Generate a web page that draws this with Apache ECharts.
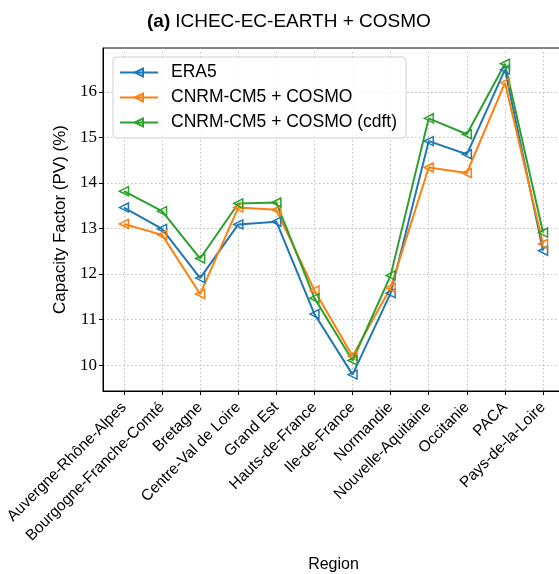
<!DOCTYPE html>
<html>
<head>
<meta charset="utf-8">
<script src="https://cdn.jsdelivr.net/npm/echarts@6/dist/echarts.min.js"></script>
<style>html,body{margin:0;padding:0;background:#fff;}#c{width:559px;height:574px;}</style>
</head>
<body>
<div id="c"></div>
<script>
const regions = ['Auvergne-Rhône-Alpes','Bourgogne-Franche-Comté','Bretagne','Centre-Val de Loire','Grand Est','Hauts-de-France','Ile-de-France','Normandie','Nouvelle-Aquitaine','Occitanie','PACA','Pays-de-la-Loire'];
const era5 = [13.46, 12.99, 11.91, 13.09, 13.15, 11.12, 9.79, 11.58, 14.92, 14.63, 16.49, 12.51];
const cnrmCosmo = [13.10, 12.86, 11.56, 13.46, 13.41, 11.64, 10.20, 11.70, 14.34, 14.22, 16.20, 12.66];
const cnrmCosmoCdft = [13.82, 13.38, 12.34, 13.55, 13.57, 11.47, 10.10, 11.97, 15.42, 15.07, 16.62, 12.91];
const seriesNames = ['ERA5', 'CNRM-CM5 + COSMO', 'CNRM-CM5 + COSMO (cdft)'];
const yTicks = [10, 11, 12, 13, 14, 15, 16];
const colors = ['#1f77b4', '#ff7f0e', '#2ca02c'];

const chart = echarts.init(document.getElementById('c'), null, {renderer: 'canvas'});
const xIdx = regions.map((r, i) => i);
function mk(name, vals, color) {
  return {
    name: name, type: 'line',
    data: vals.map((v, i) => [i, v]),
    symbol: 'triangle', symbolRotate: 90, symbolSize: 9,
    showAllSymbol: true,
    lineStyle: {color: color, width: 2},
    itemStyle: {color: 'rgba(255,255,255,0)', borderColor: color, borderWidth: 1.5},
    emphasis: {disabled: true},
    animation: false, z: 3
  };
}
const gridCol = '#b0b0b0';
chart.setOption({
  animation: false,
  backgroundColor: '#fff',
  title: {
    text: '{b|(a)} {n|ICHEC-EC-EARTH + COSMO}',
    left: 142, top: 7,
    textStyle: {fontWeight: 'normal', rich: {
      b: {fontFamily: 'Liberation Sans', fontSize: 19, fontWeight: 'bold', color: '#000'},
      n: {fontFamily: 'Liberation Sans', fontSize: 19, fontWeight: 'normal', color: '#000'}
    }}
  },
  legend: {
    orient: 'vertical', left: 113, top: 57,
    itemWidth: 38, itemHeight: 10, itemGap: 6,
    padding: [6, 9, 6, 6],
    backgroundColor: 'rgba(255,255,255,0.8)',
    borderColor: '#d0d0d0', borderWidth: 1, borderRadius: 4,
    textStyle: {fontFamily: 'Liberation Sans', fontSize: 17.5, lineHeight: 19, color: '#000', padding: [0, 0, 0, 8]},
    data: seriesNames
  },
  grid: {left: 103, top: 48, width: 461, bottom: 183, show: true, borderColor: '#000', borderWidth: 1,
    containLabel: false, outerBoundsMode: 'none'},
  xAxis: {
    type: 'value', min: -0.55, max: 11.55,
    name: 'Region', nameLocation: 'middle', nameGap: 166,
    nameTextStyle: {fontFamily: 'Liberation Sans', fontSize: 16, color: '#000'},
    axisLine: {onZero: false, lineStyle: {color: '#000', width: 1}},
    axisTick: {show: true, length: 4, lineStyle: {color: '#000'}, customValues: xIdx},
    axisLabel: {customValues: xIdx, rotate: 45, margin: 14, fontFamily: 'Liberation Sans', fontSize: 15.5, color: '#000',
      formatter: v => regions[Math.round(v)] || ''},
    splitLine: {show: true, lineStyle: {color: gridCol, type: [1.5, 2.5], width: 0.8}}
  },
  yAxis: {
    type: 'value', min: 9.43, max: 16.965,
    name: 'Capacity Factor (PV) (%)', nameLocation: 'middle', nameGap: 31,
    nameTextStyle: {fontFamily: 'Liberation Sans', fontSize: 17, color: '#000'},
    axisLine: {show: true, onZero: false, lineStyle: {color: '#000', width: 1}},
    axisTick: {show: true, length: 4, lineStyle: {color: '#000'}, customValues: yTicks},
    axisLabel: {customValues: yTicks, margin: 6, fontFamily: 'Liberation Serif', fontSize: 17, color: '#000'},
    splitLine: {show: true, lineStyle: {color: gridCol, type: [1.5, 2.5], width: 0.8}}
  },
  series: [mk(seriesNames[0], era5, colors[0]), mk(seriesNames[1], cnrmCosmo, colors[1]), mk(seriesNames[2], cnrmCosmoCdft, colors[2])]
});
</script>
</body>
</html>
